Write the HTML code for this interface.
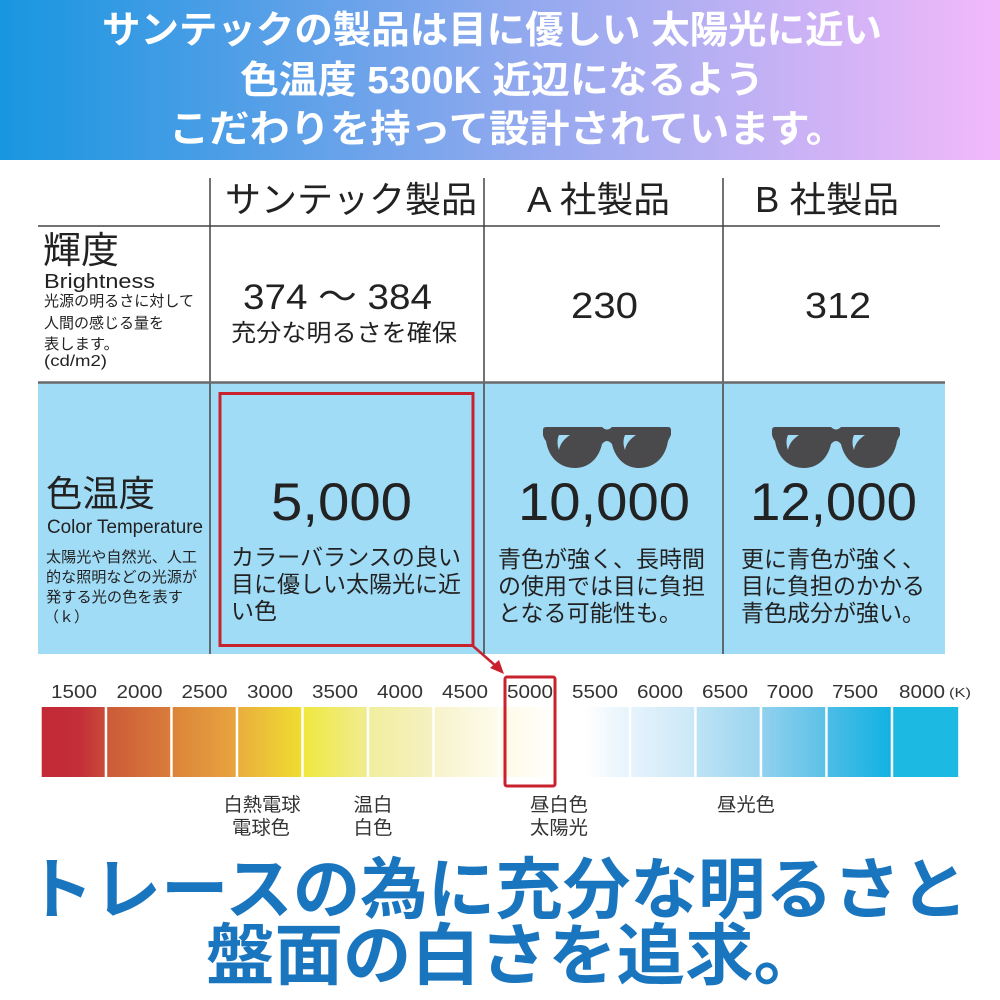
<!DOCTYPE html>
<html><head><meta charset="utf-8"><style>
html,body{margin:0;padding:0;background:#fff;}
svg{display:block;}
</style></head><body>
<svg width="1000" height="1000" viewBox="0 0 1000 1000" xmlns="http://www.w3.org/2000/svg">
<defs>
<linearGradient id="hd" x1="0" y1="0" x2="1" y2="0">
<stop offset="0" stop-color="#1896e0"/><stop offset="0.5" stop-color="#8da8ee"/><stop offset="1" stop-color="#f2b9fa"/>
</linearGradient>
<linearGradient id="g1"><stop offset="0" stop-color="#c22a36"/><stop offset="0.6" stop-color="#c42e38"/><stop offset="1" stop-color="#c94a3a"/></linearGradient>
<linearGradient id="g2"><stop offset="0" stop-color="#cc5a38"/><stop offset="1" stop-color="#d97c3a"/></linearGradient>
<linearGradient id="g3"><stop offset="0" stop-color="#dc843a"/><stop offset="1" stop-color="#e8a43e"/></linearGradient>
<linearGradient id="g4"><stop offset="0" stop-color="#e9ae3e"/><stop offset="1" stop-color="#efdd30"/></linearGradient>
<linearGradient id="g5"><stop offset="0" stop-color="#efe840"/><stop offset="1" stop-color="#f0ec90"/></linearGradient>
<linearGradient id="g6"><stop offset="0" stop-color="#f2ee9e"/><stop offset="1" stop-color="#f5f1c2"/></linearGradient>
<linearGradient id="g7"><stop offset="0" stop-color="#f7f3cc"/><stop offset="1" stop-color="#fdfcec"/></linearGradient>
<linearGradient id="g8"><stop offset="0" stop-color="#fffae6"/><stop offset="1" stop-color="#ffffff"/></linearGradient>
<linearGradient id="g9"><stop offset="0" stop-color="#ffffff"/><stop offset="0.3" stop-color="#ffffff"/><stop offset="1" stop-color="#e6f3fc"/></linearGradient>
<linearGradient id="g10"><stop offset="0" stop-color="#e6f3fc"/><stop offset="1" stop-color="#cbe8f8"/></linearGradient>
<linearGradient id="g11"><stop offset="0" stop-color="#bde3f6"/><stop offset="1" stop-color="#9bd5ef"/></linearGradient>
<linearGradient id="g12"><stop offset="0" stop-color="#90d1ee"/><stop offset="1" stop-color="#5cc1e6"/></linearGradient>
<linearGradient id="g13"><stop offset="0" stop-color="#4cbde6"/><stop offset="1" stop-color="#12b2e2"/></linearGradient>
<linearGradient id="g14"><stop offset="0" stop-color="#1cb9e2"/><stop offset="1" stop-color="#1cb9e2"/></linearGradient>
</defs>

<!-- header band -->
<rect x="0" y="0" width="1000" height="160" fill="url(#hd)"/>
<g font-family="'Liberation Sans','Noto Sans CJK JP',sans-serif" font-weight="bold" fill="#fff" font-size="38">
<text x="102" y="43" textLength="780" lengthAdjust="spacingAndGlyphs">サンテックの製品は目に優しい 太陽光に近い</text>
<text x="240" y="93" textLength="524" lengthAdjust="spacingAndGlyphs">色温度 5300K 近辺になるよう</text>
<text x="169" y="142" textLength="677" lengthAdjust="spacingAndGlyphs">こだわりを持って設計されています。</text>
</g>

<!-- blue row -->
<rect x="38" y="383" width="907" height="271" fill="#a1dcf7"/>

<!-- table lines -->
<g stroke="#444" stroke-width="1.5" fill="none">
<line x1="38" y1="226" x2="940" y2="226"/>
<line x1="210" y1="178" x2="210" y2="654"/>
<line x1="484" y1="178" x2="484" y2="654"/>
<line x1="723" y1="178" x2="723" y2="654"/>
</g>
<line x1="38" y1="382.5" x2="945" y2="382.5" stroke="#6a6a6a" stroke-width="2.5"/>

<g font-family="'Liberation Sans','Noto Sans CJK JP',sans-serif" fill="#222">
<!-- header row -->
<text x="225" y="212" font-size="36" textLength="252" lengthAdjust="spacingAndGlyphs">サンテック製品</text>
<text x="527" y="212" font-size="36" textLength="143" lengthAdjust="spacingAndGlyphs">A 社製品</text>
<text x="755" y="212" font-size="36" textLength="144" lengthAdjust="spacingAndGlyphs">B 社製品</text>

<!-- brightness row -->
<text x="43" y="263" font-size="37" textLength="76" lengthAdjust="spacingAndGlyphs">輝度</text>
<text x="44" y="288" font-size="20" textLength="111" lengthAdjust="spacingAndGlyphs">Brightness</text>
<text x="44" y="306" font-size="15" textLength="150" lengthAdjust="spacingAndGlyphs">光源の明るさに対して</text>
<text x="44" y="328" font-size="15" textLength="120" lengthAdjust="spacingAndGlyphs">人間の感じる量を</text>
<text x="44" y="349" font-size="15" textLength="75" lengthAdjust="spacingAndGlyphs">表します。</text>
<text x="44" y="366" font-size="16" textLength="63" lengthAdjust="spacingAndGlyphs">(cd/m2)</text>

<text x="243" y="309" font-size="35" textLength="189" lengthAdjust="spacingAndGlyphs">374 ～ 384</text>
<text x="231" y="341" font-size="24" textLength="226" lengthAdjust="spacingAndGlyphs">充分な明るさを確保</text>
<text x="571" y="318" font-size="36" textLength="67" lengthAdjust="spacingAndGlyphs">230</text>
<text x="805" y="318" font-size="36" textLength="66" lengthAdjust="spacingAndGlyphs">312</text>

<!-- color temperature row -->
<text x="46" y="506" font-size="36" textLength="109" lengthAdjust="spacingAndGlyphs">色温度</text>
<text x="47" y="533" font-size="19" textLength="156" lengthAdjust="spacingAndGlyphs">Color Temperature</text>
<text x="46" y="562" font-size="15" textLength="151" lengthAdjust="spacingAndGlyphs">太陽光や自然光、人工</text>
<text x="46" y="582" font-size="15" textLength="151" lengthAdjust="spacingAndGlyphs">的な照明などの光源が</text>
<text x="46" y="602" font-size="15" textLength="137" lengthAdjust="spacingAndGlyphs">発する光の色を表す</text>
<text x="44" y="622" font-size="15" textLength="45" lengthAdjust="spacingAndGlyphs">（ｋ）</text>

<text x="271" y="520" font-size="53" textLength="141" lengthAdjust="spacingAndGlyphs">5,000</text>
<text x="231" y="565" font-size="23" textLength="230" lengthAdjust="spacingAndGlyphs">カラーバランスの良い</text>
<text x="231" y="592" font-size="23" textLength="230" lengthAdjust="spacingAndGlyphs">目に優しい太陽光に近</text>
<text x="231" y="619" font-size="23" textLength="46" lengthAdjust="spacingAndGlyphs">い色</text>

<text x="518" y="520" font-size="53" textLength="172" lengthAdjust="spacingAndGlyphs">10,000</text>
<text x="498" y="567" font-size="23" textLength="207" lengthAdjust="spacingAndGlyphs">青色が強く、長時間</text>
<text x="498" y="594" font-size="23" textLength="207" lengthAdjust="spacingAndGlyphs">の使用では目に負担</text>
<text x="498" y="621" font-size="23" textLength="184" lengthAdjust="spacingAndGlyphs">となる可能性も。</text>

<text x="750" y="520" font-size="53" textLength="167" lengthAdjust="spacingAndGlyphs">12,000</text>
<text x="741" y="567" font-size="23" textLength="184" lengthAdjust="spacingAndGlyphs">更に青色が強く、</text>
<text x="741" y="594" font-size="23" textLength="184" lengthAdjust="spacingAndGlyphs">目に負担のかかる</text>
<text x="741" y="621" font-size="23" textLength="184" lengthAdjust="spacingAndGlyphs">青色成分が強い。</text>
</g>

<!-- sunglasses -->
<g fill="#4a4a4c">
<path transform="translate(543,427)" d="M3 0 L59 0 Q64 5 69 0 L125 0 Q128 0 128 3 L128 8 Q126 12 125 14 C122 33 109 41 96 41 C82 41 72 31 69 17 Q64 11 59 17 C56 31 46 41 32 41 C19 41 6 33 3 14 Q1 12 0 8 L0 3 Q0 0 3 0 Z"/>
<path transform="translate(772,427)" d="M3 0 L59 0 Q64 5 69 0 L125 0 Q128 0 128 3 L128 8 Q126 12 125 14 C122 33 109 41 96 41 C82 41 72 31 69 17 Q64 11 59 17 C56 31 46 41 32 41 C19 41 6 33 3 14 Q1 12 0 8 L0 3 Q0 0 3 0 Z"/>
</g>
<g fill="#a1dcf7">
<path transform="translate(543,427)" d="M16 8 L27 8 C21 12 17 17 16 23 C14 18 14 12 16 8 Z M82 8 L93 8 C87 12 83 17 82 23 C80 18 80 12 82 8 Z"/>
<path transform="translate(772,427)" d="M16 8 L27 8 C21 12 17 17 16 23 C14 18 14 12 16 8 Z M82 8 L93 8 C87 12 83 17 82 23 C80 18 80 12 82 8 Z"/>
</g>

<!-- red box and arrow -->
<rect x="220" y="393.5" width="253" height="252" fill="none" stroke="#c8222f" stroke-width="3"/>
<line x1="473" y1="646" x2="497" y2="667" stroke="#c8222f" stroke-width="2.5"/>
<polygon points="504,674 490,668 499,660" fill="#c8222f"/>

<!-- color bar -->
<g>
<rect x="41.7" y="707" width="63" height="70" fill="url(#g1)"/>
<rect x="107.2" y="707" width="63" height="70" fill="url(#g2)"/>
<rect x="172.7" y="707" width="63" height="70" fill="url(#g3)"/>
<rect x="238.2" y="707" width="63" height="70" fill="url(#g4)"/>
<rect x="303.7" y="707" width="63" height="70" fill="url(#g5)"/>
<rect x="369.2" y="707" width="63" height="70" fill="url(#g6)"/>
<rect x="434.7" y="707" width="63" height="70" fill="url(#g7)"/>
<rect x="500.2" y="707" width="63" height="70" fill="url(#g8)"/>
<rect x="565.7" y="707" width="63" height="70" fill="url(#g9)"/>
<rect x="631.2" y="707" width="63" height="70" fill="url(#g10)"/>
<rect x="696.7" y="707" width="63" height="70" fill="url(#g11)"/>
<rect x="762.2" y="707" width="63" height="70" fill="url(#g12)"/>
<rect x="827.7" y="707" width="63" height="70" fill="url(#g13)"/>
<rect x="893.2" y="707" width="65" height="70" fill="url(#g14)"/>
</g>
<rect x="505" y="677" width="50" height="109" rx="2" fill="none" stroke="#c8222f" stroke-width="3"/>

<g font-family="'Liberation Sans','Noto Sans CJK JP',sans-serif" fill="#333" font-size="18" text-anchor="middle">
<text x="74" y="698" textLength="46" lengthAdjust="spacingAndGlyphs">1500</text>
<text x="139.5" y="698" textLength="46" lengthAdjust="spacingAndGlyphs">2000</text>
<text x="204.5" y="698" textLength="46" lengthAdjust="spacingAndGlyphs">2500</text>
<text x="270" y="698" textLength="46" lengthAdjust="spacingAndGlyphs">3000</text>
<text x="335" y="698" textLength="46" lengthAdjust="spacingAndGlyphs">3500</text>
<text x="400" y="698" textLength="46" lengthAdjust="spacingAndGlyphs">4000</text>
<text x="465" y="698" textLength="46" lengthAdjust="spacingAndGlyphs">4500</text>
<text x="530" y="698" textLength="46" lengthAdjust="spacingAndGlyphs">5000</text>
<text x="595" y="698" textLength="46" lengthAdjust="spacingAndGlyphs">5500</text>
<text x="660" y="698" textLength="46" lengthAdjust="spacingAndGlyphs">6000</text>
<text x="725" y="698" textLength="46" lengthAdjust="spacingAndGlyphs">6500</text>
<text x="790" y="698" textLength="47" lengthAdjust="spacingAndGlyphs">7000</text>
<text x="855" y="698" textLength="46" lengthAdjust="spacingAndGlyphs">7500</text>
<text x="922" y="698" textLength="46" lengthAdjust="spacingAndGlyphs">8000</text>
<text x="960" y="697" font-size="13" textLength="22" lengthAdjust="spacingAndGlyphs">(K)</text>
</g>

<g font-family="'Liberation Sans','Noto Sans CJK JP',sans-serif" fill="#333" font-size="19" text-anchor="middle">
<text x="262" y="811" textLength="77" lengthAdjust="spacingAndGlyphs">白熱電球</text>
<text x="261" y="834" textLength="58" lengthAdjust="spacingAndGlyphs">電球色</text>
<text x="373" y="811" textLength="39" lengthAdjust="spacingAndGlyphs">温白</text>
<text x="373" y="834" textLength="39" lengthAdjust="spacingAndGlyphs">白色</text>
<text x="559" y="811" textLength="58" lengthAdjust="spacingAndGlyphs">昼白色</text>
<text x="559" y="834" textLength="58" lengthAdjust="spacingAndGlyphs">太陽光</text>
<text x="746" y="811" textLength="58" lengthAdjust="spacingAndGlyphs">昼光色</text>
</g>

<!-- bottom slogan -->
<g font-family="'Liberation Sans','Noto Sans CJK JP',sans-serif" font-weight="bold" fill="#1a75bf" font-size="67">
<text x="26" y="913" textLength="942" lengthAdjust="spacingAndGlyphs">トレースの為に充分な明るさと</text>
<text x="206" y="979" textLength="616" lengthAdjust="spacingAndGlyphs">盤面の白さを追求。</text>
</g>
</svg>
</body></html>
